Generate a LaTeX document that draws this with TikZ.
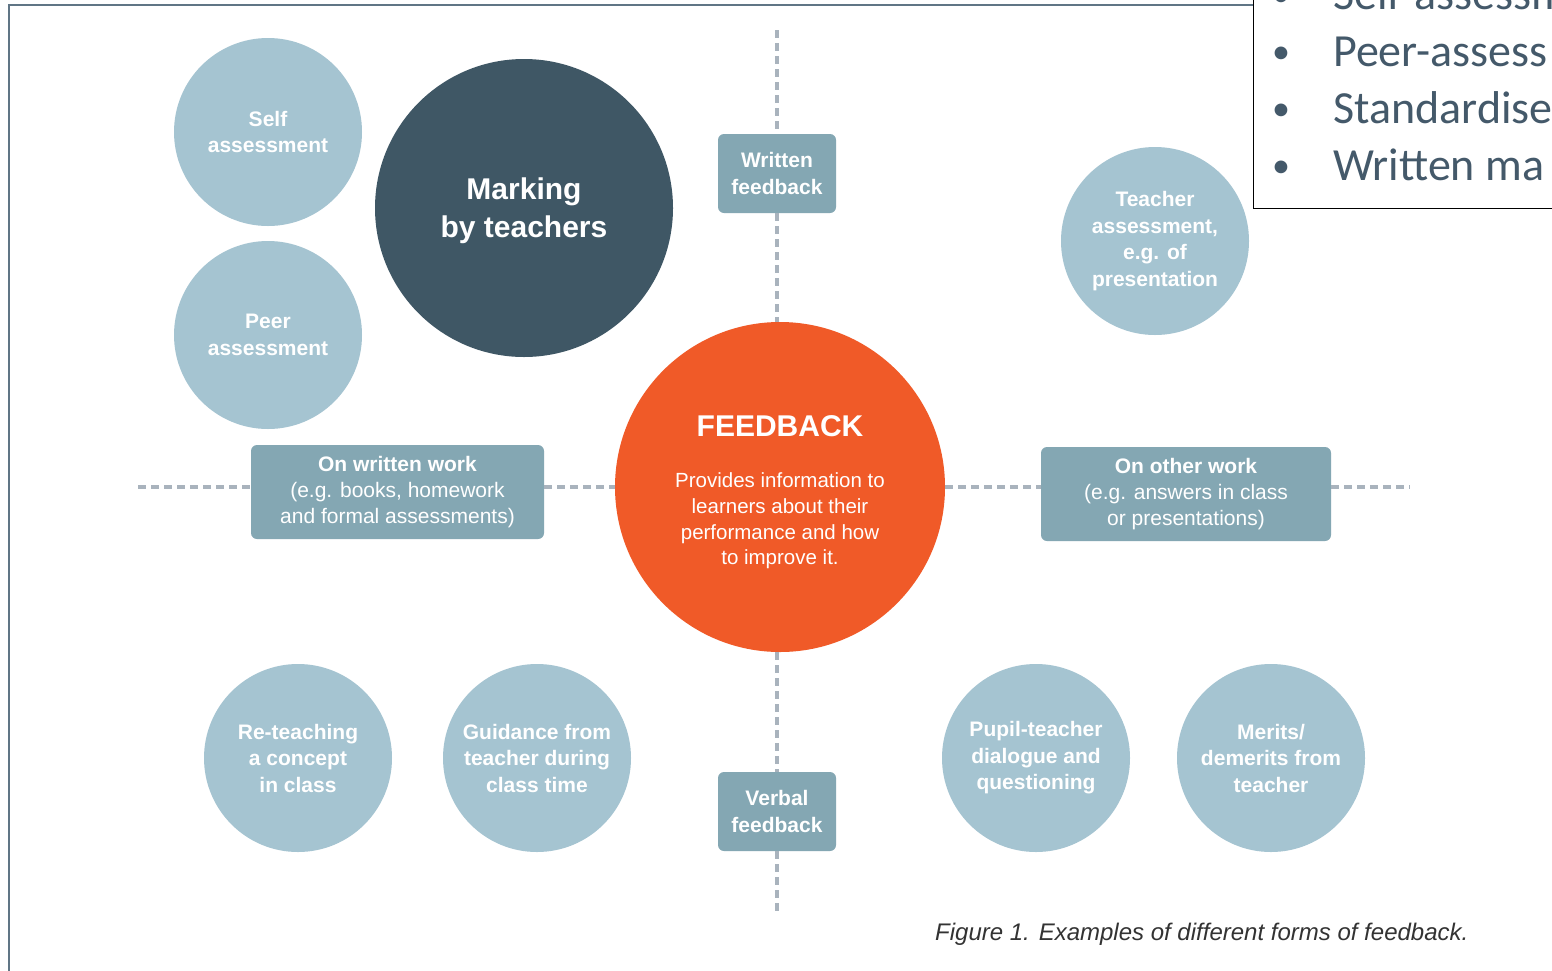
\documentclass[tikz,border=0pt]{standalone}
\usepackage{fontspec}
\setmainfont{Liberation Sans}
\newfontfamily\carlitofont{Carlito}
\definecolor{lightblue}{HTML}{A5C4D1}
\definecolor{boxblue}{HTML}{84A7B3}
\definecolor{darkslate}{HTML}{3F5765}
\definecolor{fborange}{HTML}{F05A28}
\definecolor{dashgray}{HTML}{A9B3BD}
\definecolor{framecol}{HTML}{607585}
\definecolor{bullettext}{HTML}{44596A}
\definecolor{captiongray}{HTML}{333333}
\tikzset{
  lightcirc/.style={circle, fill=lightblue, minimum size=188pt, inner sep=0pt, text=white, align=center,
    font=\fontsize{21}{26.5}\selectfont\bfseries},
  darkcirc/.style={circle, fill=darkslate, minimum size=298pt, inner sep=0pt, text=white, align=center,
    font=\fontsize{30}{38}\selectfont\bfseries, text depth=0pt},
  fbcirc/.style={circle, fill=fborange, minimum size=330pt, inner sep=0pt},
  fbtext/.style={text=white, inner sep=0pt, align=center},
  tagbox/.style={rectangle, rounded corners=6pt, fill=boxblue, text=white, align=center, inner sep=0pt,
    font=\fontsize{21}{26}\selectfont},
  dashline/.style={draw=dashgray, line width=3.5pt, dash pattern=on 8pt off 5pt},
  bullettxt/.style={text=bullettext, inner sep=0pt, anchor=base west, font=\carlitofont\fontsize{46}{56}\selectfont},
  bulletdot/.style={text=bullettext, inner sep=0pt, anchor=base, font=\carlitofont\fontsize{36}{44}\selectfont},
}
\begin{document}
\begin{tikzpicture}[x=1pt,y=-1pt]
\useasboundingbox (0,0) rectangle (1552,970);
\clip (0,0) rectangle (1552,970);
\fill[white] (0,0) rectangle (1552,970);
% outer frame
\draw[framecol, line width=2pt] (9,975) -- (9,5) -- (1253,5);

% circles
\node[lightcirc] (self) at (268,132) {Self\\assessment};
\node[lightcirc] (peer) at (268,335) {Peer\\assessment};
\node[darkcirc] (marking) at (524,208) {Marking\\by teachers};
\node[lightcirc] (teacher) at (1155,241) {Teacher\\assessment,\\e.g. of\\presentation};
\node[lightcirc] (reteach) at (298,758) {Re-teaching\\a concept\\in class};
\node[lightcirc] (guidance) at (537,758) {Guidance from\\teacher during\\class time};
\node[lightcirc] (pupil) at (1036,758) {Pupil-teacher\\dialogue and\\questioning};
\node[lightcirc] (merits) at (1271,758) {Merits/\\demerits from\\teacher};

% central feedback circle
\node[fbcirc] (fb) at (780,487) {};
\node[fbtext, anchor=base, font=\fontsize{30}{36}\selectfont\bfseries] (fbtitle) at (780,436) {FEEDBACK};
\node[fbtext, font=\fontsize{20.5}{25.7}\selectfont] (fbbody) at (780,521)
  {Provides information to\\learners about their\\performance and how\\to improve it.};

% tag boxes
\node[tagbox, minimum width=118pt, minimum height=79pt, font=\fontsize{21}{26.5}\selectfont\bfseries]
  (wfb) at (777,173.5) {Written\\feedback};
\node[tagbox, minimum width=118pt, minimum height=79pt, font=\fontsize{21}{26.5}\selectfont\bfseries]
  (vfb) at (777,811.5) {Verbal\\feedback};
\node[tagbox, minimum width=293pt, minimum height=94pt] (wwork) at (397.5,492)
  {\textbf{On written work}\\(e.g. books, homework\\and formal assessments)};
\node[tagbox, minimum width=290pt, minimum height=94pt] (owork) at (1186,494)
  {\textbf{On other work}\\(e.g. answers in class\\or presentations)};

% dashed axes
\coordinate (vtop) at (777,30);
\coordinate (vbot) at (777,912);
\coordinate (hleft) at (138,487);
\coordinate (hright) at (1410,487);
\draw[dashline] (vtop) -- (wfb.north);
\draw[dashline] (wfb.south) -- (vtop |- fb.north);
\draw[dashline] (vtop |- fb.south) -- (vfb.north);
\draw[dashline] (vfb.south) -- (vbot);
\draw[dashline] (hleft) -- (hleft -| wwork.west);
\draw[dashline] (hleft -| wwork.east) -- (fb.west);
\draw[dashline] (fb.east) -- (hleft -| owork.west);
\draw[dashline] (hleft -| owork.east) -- (hright);

% caption
\node[anchor=base west, inner sep=0pt, text=captiongray, font=\fontsize{24}{28}\selectfont\itshape]
  (caption) at (935,940) {Figure 1. Examples of different forms of feedback.};

% overlay bullet box (cut off at the picture edge, as in the reference)
\draw[black, line width=1.5pt, fill=white] (1253.5,-5) rectangle (1560,208.5);
\node[bulletdot] (b1) at (1281,6) {•};
\node[bullettxt] (t1) at (1333,9) {Self-assessm};
\node[bulletdot] (b2) at (1281,63) {•};
\node[bullettxt] (t2) at (1333,66) {Peer-assess};
\node[bulletdot] (b3) at (1281,120) {•};
\node[bullettxt] (t3) at (1333,123) {Standardise};
\node[bulletdot] (b4) at (1281,177) {•};
\node[bullettxt] (t4) at (1333,180) {Written ma};
\end{tikzpicture}
\end{document}
